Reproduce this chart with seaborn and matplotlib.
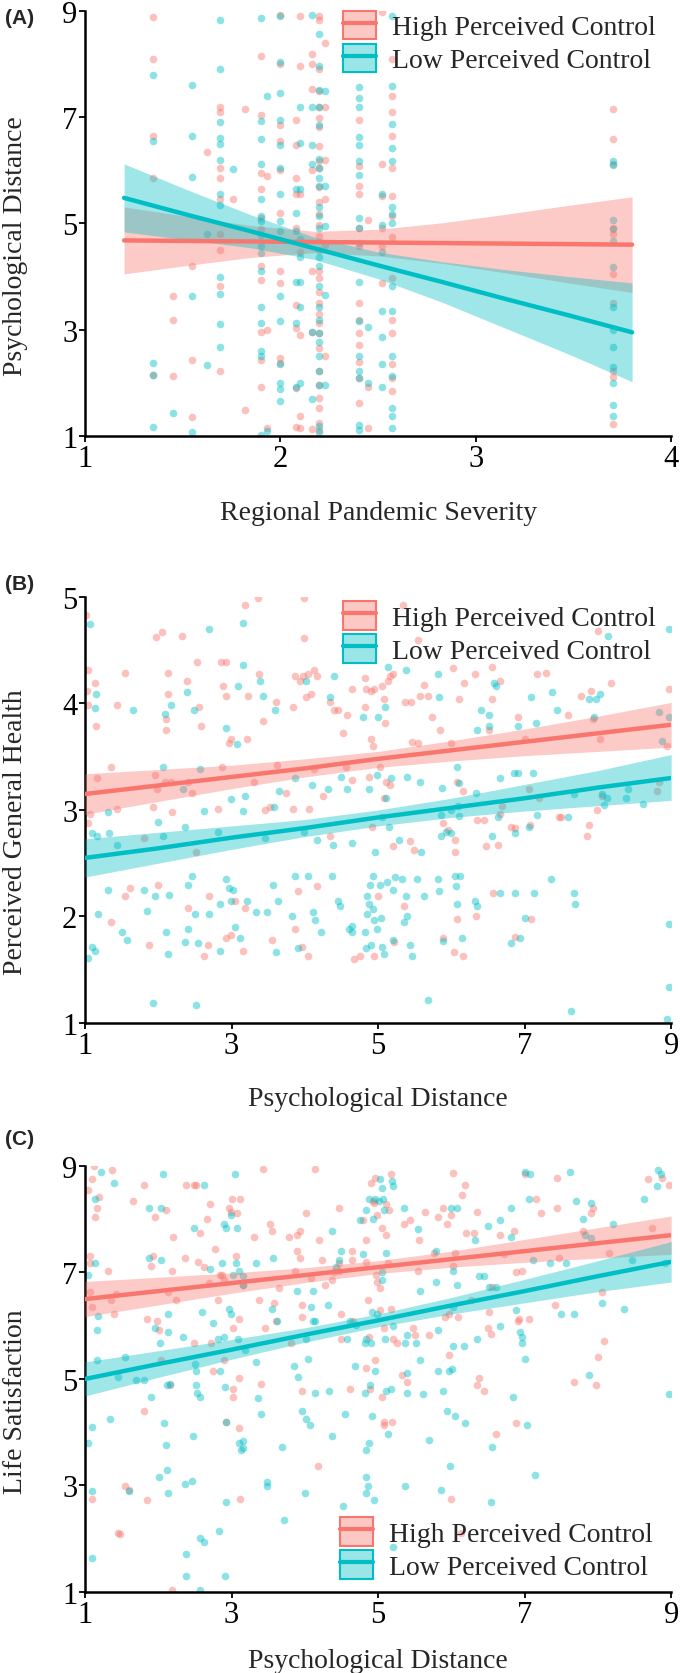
import matplotlib
matplotlib.use("Agg")
import matplotlib.pyplot as plt
import seaborn as sns
from matplotlib.patches import Patch
from matplotlib.lines import Line2D
from matplotlib.colors import to_rgba

HIGH = "#F8766D"
LOW = "#00BFC4"
group_labels = ["High Perceived Control", "Low Perceived Control"]

# ---------------- Panel A: severity (x) vs psychological distance (y) ----------------
a_severity = [1.35, 1.45, 1.55, 1.625, 1.69, 1.76, 1.82, 1.9, 1.93, 2.0,
              2.08, 2.1, 2.16, 2.2, 2.23, 2.4, 2.45, 2.52, 2.57, 3.7]
a_high_pd = [
    [8.88, 8.1, 6.65, 5.85, 2.15],
    [3.64, 3.19, 2.12],
    [4.2, 2.42, 1.35],
    [6.35],
    [7.2, 7.1, 6.05, 5.85, 5.45, 4.8, 4.5, 3.83, 2.22],
    [5.45],
    [7.15, 1.48],
    [8.16, 7.04, 5.95, 5.64, 5.1, 4.9, 4.2, 3.93, 2.96, 2.42, 1.92],
    [5.9, 3.0, 1.15],
    [8.93, 8.0, 6.85, 6.55, 6.0, 5.2, 4.1, 3.87, 2.46, 2.37],
    [6.95, 6.48, 5.85, 5.55, 4.91, 3.46, 3.03, 1.9, 1.16],
    [8.9, 7.96, 5.55, 4.47, 2.9, 1.38, 1.15],
    [8.18, 8.0, 7.53, 6.0, 4.1, 2.96, 1.13],
    [8.9, 8.83, 7.9, 7.49, 7.19, 6.99, 6.82, 6.45, 6.18, 6.05, 5.68, 5.41, 5.17, 4.97, 4.77,
     4.5, 4.1, 3.97, 3.7, 3.5, 3.29, 3.13, 2.93, 2.66, 2.22, 1.95, 1.72, 1.52, 1.25, 1.11],
    [8.4, 7.2, 6.2, 5.45, 4.6, 2.5],
    [6.95, 6.08, 5.71, 5.55, 4.91, 4.58, 3.5, 3.19, 2.93, 2.72, 2.39, 2.09, 1.62],
    [5.07, 1.92, 1.15],
    [8.98, 6.12, 5.51, 4.91, 4.58, 3.87],
    [8.1, 7.4, 7.09, 6.65, 6.05, 5.51, 5.14, 4.74, 3.97, 3.19, 2.93, 2.36, 2.09, 1.85],
    [7.15, 6.58, 6.12, 4.91, 4.8, 4.04, 3.5, 2.22, 2.1, 1.22],
]
a_low_pd = [
    [7.8, 6.55, 2.38, 2.15, 1.17],
    [1.43],
    [7.6, 6.65, 5.88, 3.63, 1.07],
    [4.8, 2.34],
    [8.82, 7.9, 6.9, 6.6, 6.5, 6.2, 5.55, 5.35, 4.0, 3.67, 3.1, 2.68],
    [6.03],
    [],
    [8.87, 6.92, 6.58, 6.12, 5.45, 5.14, 5.05, 4.78, 4.58, 4.44, 4.1, 3.43, 3.13, 2.6, 2.5, 1.02],
    [7.4, 1.1],
    [8.9, 8.03, 7.46, 6.95, 6.48, 6.05, 5.55, 5.05, 4.85, 3.63, 3.17, 2.36, 1.99, 1.89, 1.65],
    [5.64, 5.2, 4.85, 3.9, 3.13, 1.92],
    [7.19, 6.52, 5.64, 4.7, 4.37, 3.9, 3.43, 2.0],
    [8.93, 7.19, 6.48, 6.12, 2.96, 1.7],
    [8.56, 7.96, 7.52, 7.19, 6.85, 6.21, 6.05, 5.85, 5.71, 5.31, 5.14, 4.91, 4.37, 4.2, 3.83,
     3.43, 3.19, 2.93, 2.76, 2.5, 2.22, 1.95, 1.18, 1.08],
    [7.5, 5.7, 4.95, 3.65, 1.95],
    [7.56, 7.36, 7.19, 6.62, 6.48, 6.18, 5.91, 5.1, 4.91, 4.64, 3.9, 3.17, 2.5, 2.22, 2.09, 1.21, 1.11],
    [3.05, 1.99],
    [5.55, 4.97, 4.47, 3.36, 2.86, 2.36, 1.92],
    [8.9, 7.59, 6.88, 6.42, 6.18, 5.31, 5.17, 5.0, 3.83, 3.36, 2.5, 2.13, 1.52, 1.38, 1.15],
    [6.18, 6.1, 5.07, 4.9, 4.67, 4.17, 3.43, 3.0, 2.67, 2.29, 1.99, 1.58, 1.38],
]
# fitted lines and 95% bands
a_fit_x = [1.2, 1.525, 1.85, 2.175, 2.5, 2.825, 3.15, 3.475, 3.8]
a_high_fit = [4.68, 4.67, 4.66, 4.65, 4.64, 4.63, 4.62, 4.61, 4.60]
a_high_lo = [4.05, 4.21, 4.36, 4.45, 4.39, 4.25, 4.07, 3.88, 3.70]
a_high_hi = [5.31, 5.13, 4.96, 4.85, 4.89, 5.01, 5.17, 5.34, 5.50]
a_low_fit = [5.48, 5.16, 4.85, 4.53, 4.21, 3.90, 3.58, 3.27, 2.95]
a_low_lo = [4.84, 4.69, 4.54, 4.32, 3.96, 3.52, 3.03, 2.54, 2.02]
a_low_hi = [6.12, 5.63, 5.16, 4.74, 4.46, 4.28, 4.13, 4.00, 3.88]

# ---------------- Panel B: psychological distance (x) vs general health (y) ----------------
b_high = [
    (1.01, 4.83), (1.04, 4.31), (1.03, 4.12), (1.04, 3.99), (1.13, 4.19), (1.15, 3.79), (1.07, 2.96),
    (1.04, 2.88), (1.16, 3.30), (1.35, 3.40), (1.44, 3.99), (1.54, 4.29), (1.43, 3.01), (1.62, 2.27),
    (1.54, 2.19), (1.35, 1.95), (1.87, 1.73), (1.97, 4.62), (2.05, 4.67), (1.96, 3.33), (1.98, 3.20),
    (2.09, 3.26), (1.93, 3.03), (1.81, 2.74), (2.0, 2.30), (2.1, 3.85), (2.11, 3.75), (2.13, 4.09),
    (2.13, 4.29), (2.17, 3.26), (2.19, 2.98), (2.33, 4.63), (2.39, 4.21), (2.4, 3.26), (2.46, 3.16),
    (2.53, 4.39), (2.56, 3.97), (2.59, 3.79), (2.52, 2.61), (2.4, 2.08), (2.69, 2.19), (2.63, 1.63),
    (2.68, 1.73), (2.86, 4.39), (2.92, 4.39), (2.89, 4.16), (2.93, 4.07), (2.99, 3.67), (2.96, 3.63),
    (2.81, 3.01), (2.87, 3.40), (2.93, 1.80), (2.99, 1.83), (3.05, 2.15), (3.19, 4.92), (3.21, 3.67),
    (3.22, 4.07), (3.19, 2.08), (3.16, 1.68), (3.36, 4.99), (3.37, 4.28), (3.31, 3.26), (3.43, 3.84),
    (3.46, 3.0), (3.52, 3.03), (3.55, 1.78), (3.6, 4.01), (3.62, 3.42), (3.75, 3.16), (3.84, 3.97),
    (3.86, 4.26), (3.93, 4.21), (3.84, 3.01), (3.87, 1.88), (3.91, 2.24), (3.98, 4.26), (3.99, 4.99),
    (3.99, 4.61), (4.02, 4.06), (4.05, 4.28), (4.08, 4.09), (3.96, 1.71), (4.05, 1.63), (4.06, 3.01),
    (4.13, 4.31), (4.17, 4.26), (4.17, 2.29), (4.12, 3.38), (4.25, 3.13), (4.34, 4.01), (4.4, 3.94),
    (4.45, 3.94), (4.34, 2.76), (4.52, 3.72), (4.56, 3.40), (4.64, 4.14), (4.58, 3.89), (4.64, 3.28),
    (4.67, 1.60), (4.76, 1.63), (4.82, 4.24), (4.82, 3.97), (4.84, 4.14), (4.9, 4.12), (4.9, 3.67),
    (4.93, 3.60), (4.94, 4.14), (4.87, 3.31), (4.92, 2.84), (4.94, 1.63), (5.0, 2.19), (5.02, 3.40),
    (5.05, 4.16), (5.08, 4.04), (5.1, 3.82), (5.11, 3.26), (5.08, 3.11), (5.14, 4.21), (5.16, 4.26),
    (5.16, 3.23), (5.2, 4.28), (5.2, 2.66), (5.22, 1.76), (5.34, 4.92), (5.37, 4.01), (5.45, 4.01),
    (5.46, 3.64), (5.54, 4.60), (5.54, 3.63), (5.49, 2.62), (5.43, 2.71), (5.36, 2.10), (5.57, 4.07),
    (5.63, 4.17), (5.68, 4.07), (5.73, 3.87), (5.85, 3.75), (5.88, 2.88), (5.88, 1.80), (5.96, 2.81),
    (6.0, 3.63), (6.02, 4.33), (6.1, 4.04), (6.08, 3.26), (6.05, 2.72), (6.05, 2.61), (6.08, 1.98),
    (6.04, 1.67), (6.16, 3.18), (6.16, 1.63), (6.17, 4.19), (6.32, 4.28), (6.34, 2.0), (6.35, 2.91),
    (6.44, 2.91), (6.47, 2.66), (6.52, 3.75), (6.55, 4.04), (6.55, 4.34), (6.57, 2.22), (6.63, 2.67),
    (6.67, 4.21), (6.67, 2.96), (6.69, 3.04), (6.82, 2.84), (6.87, 2.83), (6.87, 1.81), (6.91, 3.87),
    (7.0, 3.67), (7.06, 3.20), (7.07, 2.86), (7.09, 1.98), (7.17, 4.28), (7.2, 3.11), (7.29, 4.29),
    (7.47, 2.93), (7.5, 2.93), (7.59, 3.89), (7.77, 4.07), (7.85, 2.76), (7.88, 2.86), (7.91, 4.12),
    (7.94, 3.85), (7.99, 3.0), (8.0, 4.68), (8.03, 3.67), (8.06, 3.13), (8.18, 4.19), (8.83, 3.26),
    (8.97, 4.14), (8.94, 3.60), (8.81, 3.18),
]
b_low = [
    (1.07, 4.75), (1.04, 1.61), (1.1, 1.71), (1.13, 1.68), (1.15, 4.09), (1.13, 3.96), (1.09, 2.78),
    (1.16, 2.76), (1.18, 2.02), (1.32, 2.98), (1.33, 2.78), (1.32, 2.25), (1.44, 2.67), (1.5, 1.85),
    (1.57, 1.78), (1.66, 3.94), (1.81, 2.25), (1.84, 2.05), (1.93, 1.19), (1.96, 2.19), (2.0, 2.89),
    (2.06, 3.40), (2.07, 2.76), (2.09, 3.90), (2.1, 1.85), (2.14, 2.20), (2.17, 3.99), (2.13, 1.65),
    (2.34, 3.20), (2.37, 2.84), (2.39, 4.11), (2.4, 2.30), (2.46, 2.38), (2.4, 1.88), (2.37, 1.76),
    (2.49, 3.94), (2.5, 2.02), (2.54, 1.75), (2.52, 1.17), (2.57, 3.38), (2.63, 2.99), (2.69, 2.02),
    (2.69, 4.70), (2.81, 2.79), (2.84, 2.12), (2.84, 1.68), (2.92, 3.77), (2.93, 2.35), (2.96, 2.27),
    (2.99, 2.15), (2.99, 3.10), (3.02, 2.25), (3.08, 3.62), (3.05, 1.90), (3.11, 1.80), (3.09, 4.16),
    (3.15, 4.36), (3.15, 4.76), (3.16, 2.99), (3.18, 3.13), (3.21, 2.15), (3.34, 2.04), (3.39, 4.21),
    (3.43, 4.07), (3.45, 2.74), (3.48, 2.04), (3.56, 2.30), (3.58, 3.03), (3.59, 3.94), (3.6, 1.67),
    (3.64, 2.15), (3.65, 3.18), (3.82, 2.0), (3.86, 3.30), (3.87, 2.38), (3.91, 1.70), (3.99, 2.79),
    (4.02, 4.21), (4.05, 2.38), (4.1, 3.23), (4.11, 2.04), (4.14, 1.97), (4.17, 2.72), (4.22, 1.85),
    (4.31, 3.20), (4.37, 2.38), (4.34, 4.06), (4.4, 4.26), (4.38, 2.67), (4.45, 2.15), (4.48, 2.10),
    (4.49, 3.31), (4.58, 3.20), (4.6, 1.88), (4.64, 2.69), (4.65, 1.91), (4.64, 1.85), (4.8, 3.87),
    (4.82, 1.85), (4.83, 1.70), (4.85, 2.19), (4.85, 2.02), (4.87, 2.12), (4.88, 3.20), (4.89, 2.30),
    (4.9, 1.73), (4.93, 2.38), (4.93, 2.07), (4.94, 1.97), (4.96, 2.61), (4.98, 3.33), (4.99, 1.88),
    (5.0, 3.87), (5.02, 2.30), (5.04, 1.99), (5.05, 2.93), (5.06, 1.71), (5.08, 1.65), (5.1, 3.97),
    (5.11, 3.11), (5.12, 2.32), (5.14, 4.34), (5.15, 2.84), (5.17, 3.30), (5.2, 2.25), (5.2, 1.78),
    (5.23, 2.37), (5.28, 2.72), (5.32, 2.35), (5.35, 1.95), (5.38, 2.19), (5.38, 4.31), (5.4, 2.0),
    (5.39, 3.31), (5.44, 1.73), (5.46, 1.63), (5.53, 2.35), (5.57, 3.26), (5.59, 2.61), (5.63, 2.19),
    (5.68, 1.22), (5.82, 2.35), (5.83, 4.06), (5.83, 2.24), (5.86, 2.95), (5.86, 2.76), (5.82, 4.28),
    (5.87, 3.21), (5.88, 1.77), (5.93, 2.79), (6.0, 3.0), (6.0, 2.78), (6.05, 2.38), (6.06, 2.29),
    (6.08, 3.40), (6.09, 3.04), (6.1, 2.94), (6.11, 3.25), (6.08, 2.12), (6.12, 2.38), (6.14, 1.80),
    (6.32, 2.15), (6.35, 2.10), (6.34, 3.16), (6.35, 3.75), (6.4, 3.94), (6.51, 3.79), (6.52, 3.89),
    (6.55, 2.76), (6.58, 4.19), (6.61, 4.16), (6.64, 2.93), (6.67, 3.30), (6.67, 2.22), (6.82, 1.75),
    (6.85, 3.35), (6.87, 2.78), (6.87, 2.22), (6.91, 3.35), (6.91, 3.79), (6.94, 1.80), (7.0, 1.99),
    (7.06, 2.84), (7.09, 4.06), (7.11, 3.35), (7.13, 2.22), (7.15, 3.82), (7.17, 2.95), (7.36, 2.35),
    (7.38, 4.11), (7.44, 3.94), (7.59, 2.93), (7.63, 1.11), (7.67, 2.22), (7.69, 2.12), (7.67, 3.15),
    (7.88, 4.04), (7.97, 4.04), (7.95, 3.87), (8.03, 4.09), (8.06, 3.15), (8.09, 3.05), (8.12, 3.11),
    (8.14, 4.63), (8.38, 3.11), (8.41, 3.20), (8.61, 3.06), (8.83, 3.92), (8.87, 3.65), (8.97, 4.70),
    (8.97, 1.93), (8.97, 1.34), (8.94, 1.04), (8.97, 3.87),
]
b_fit_x = [1, 2, 3, 4, 5, 6, 7, 8, 9]
b_high_fit = [3.15, 3.23, 3.31, 3.39, 3.48, 3.56, 3.64, 3.72, 3.80]
b_high_lo = [2.96, 3.08, 3.20, 3.31, 3.40, 3.46, 3.51, 3.55, 3.59]
b_high_hi = [3.34, 3.38, 3.42, 3.48, 3.55, 3.65, 3.76, 3.88, 4.01]
b_low_fit = [2.55, 2.64, 2.74, 2.83, 2.93, 3.02, 3.11, 3.21, 3.30]
b_low_lo = [2.37, 2.50, 2.63, 2.75, 2.85, 2.93, 2.99, 3.04, 3.09]
b_low_hi = [2.73, 2.79, 2.85, 2.91, 3.00, 3.11, 3.24, 3.37, 3.52]

# ---------------- Panel C: psychological distance (x) vs life satisfaction (y) ----------------
c_high = [
    (1.1, 8.75), (1.04, 8.55), (1.07, 7.30), (1.07, 7.17), (1.07, 6.63), (1.1, 6.36), (1.16, 8.21),
    (1.13, 8.04), (1.19, 8.41), (1.1, 2.75), (1.12, 8.99), (1.31, 7.03), (1.36, 6.49), (1.42, 6.59),
    (1.39, 6.22), (1.48, 2.08), (1.45, 2.11), (1.54, 2.99), (1.6, 2.92), (1.37, 8.92), (1.66, 8.35),
    (1.81, 8.65), (1.84, 6.12), (1.85, 2.72), (1.81, 4.40), (1.9, 7.13), (1.93, 7.30), (1.96, 8.04),
    (1.98, 6.09), (2.01, 5.92), (2.04, 5.35), (2.1, 8.18), (2.13, 6.63), (2.19, 7.03), (2.2, 7.67),
    (2.16, 4.88), (2.19, 1.04), (2.24, 6.49), (2.37, 7.27), (2.38, 8.65), (2.49, 8.65), (2.52, 8.65),
    (2.54, 7.20), (2.57, 7.74), (2.49, 5.68), (2.62, 7.10), (2.66, 8.0), (2.71, 8.28), (2.69, 6.80),
    (2.72, 5.68), (2.75, 5.15), (2.77, 7.44), (2.81, 6.49), (2.84, 6.96), (2.87, 6.96), (2.9, 6.86),
    (2.9, 5.35), (2.93, 4.20), (2.96, 8.21), (2.99, 8.14), (3.0, 8.38), (3.02, 5.95), (3.02, 4.81),
    (3.02, 4.67), (3.06, 7.30), (3.1, 6.12), (3.1, 4.07), (3.1, 5.01), (3.12, 8.38), (3.08, 8.11),
    (3.12, 2.75), (3.16, 6.76), (3.3, 7.67), (3.37, 6.49), (3.4, 4.91), (3.43, 8.95), (3.46, 5.95),
    (3.52, 7.91), (3.55, 7.77), (3.58, 6.43), (3.6, 6.09), (3.65, 6.70), (3.78, 7.67), (3.81, 5.68),
    (3.9, 7.71), (3.9, 7.40), (3.93, 7.77), (3.93, 7.27), (3.96, 6.39), (3.96, 6.16), (3.96, 4.77),
    (3.87, 7.03), (4.02, 8.11), (4.08, 6.90), (4.14, 8.95), (4.18, 3.36), (4.2, 7.61), (4.23, 7.23),
    (4.28, 6.76), (4.37, 6.86), (4.4, 7.0), (4.46, 7.03), (4.46, 7.17), (4.46, 8.21), (4.49, 6.22),
    (4.49, 5.75), (4.61, 4.81), (4.64, 7.23), (4.66, 6.09), (4.64, 7.40), (4.79, 7.98), (4.83, 7.61),
    (4.83, 5.21), (4.84, 7.20), (4.86, 6.49), (4.87, 5.79), (4.89, 4.81), (4.9, 8.68), (4.93, 8.35),
    (4.95, 8.31), (4.96, 8.78), (4.96, 5.35), (4.97, 6.96), (4.99, 8.08), (4.99, 6.83), (5.02, 6.70),
    (5.03, 6.29), (5.05, 7.84), (5.05, 4.67), (5.08, 5.95), (5.08, 4.20), (5.08, 4.13), (5.11, 8.28),
    (5.11, 7.71), (5.13, 7.17), (5.15, 8.18), (5.17, 8.85), (5.17, 6.32), (5.19, 4.20), (5.2, 5.75),
    (5.26, 5.68), (5.32, 5.08), (5.35, 7.91), (5.4, 4.94), (5.43, 7.98), (5.48, 5.95), (5.5, 5.82),
    (5.55, 7.03), (5.56, 7.61), (5.64, 8.14), (5.7, 5.82), (5.76, 7.37), (5.82, 8.04), (5.88, 8.21),
    (5.91, 6.16), (5.94, 7.91), (5.97, 6.22), (5.97, 5.45), (6.0, 8.08), (6.0, 2.75), (6.02, 8.87),
    (6.02, 7.13), (6.05, 7.37), (6.09, 6.16), (6.13, 2.11), (6.14, 8.45), (6.19, 8.65), (6.2, 7.74),
    (6.27, 6.49), (6.31, 7.74), (6.35, 8.14), (6.35, 4.88), (6.38, 5.01), (6.44, 4.77), (6.5, 5.95),
    (6.52, 6.26), (6.54, 5.85), (6.55, 6.73), (6.61, 3.97), (6.67, 7.71), (6.72, 7.34), (6.85, 7.77),
    (6.88, 4.17), (6.88, 7.0), (6.91, 6.09), (6.92, 6.12), (6.97, 7.03), (7.0, 8.85), (7.06, 6.12),
    (7.16, 8.38), (7.22, 8.11), (7.41, 6.39), (7.44, 8.21), (7.44, 8.78), (7.47, 7.27), (7.67, 4.94),
    (7.79, 7.77), (7.91, 8.11), (7.94, 8.21), (7.97, 4.88), (8.0, 5.42), (8.06, 6.63), (8.09, 5.72),
    (8.15, 7.37), (8.68, 8.75), (8.74, 7.84), (8.88, 8.78), (8.97, 8.65),
]
c_low = [
    (1.04, 6.96), (1.04, 3.80), (1.1, 4.10), (1.1, 2.89), (1.1, 1.64), (1.13, 8.38), (1.13, 7.17),
    (1.16, 5.92), (1.16, 5.35), (1.18, 6.19), (1.22, 8.89), (1.34, 4.24), (1.4, 8.68), (1.45, 5.04),
    (1.54, 5.42), (1.6, 2.89), (1.69, 4.98), (1.81, 4.98), (1.87, 8.21), (1.9, 4.67), (1.88, 7.27),
    (1.96, 5.95), (2.01, 3.16), (2.03, 5.68), (2.04, 8.21), (2.06, 8.85), (2.04, 7.23), (2.08, 4.17),
    (2.1, 3.76), (2.12, 3.29), (2.13, 6.22), (2.12, 4.88), (2.13, 2.86), (2.16, 4.91), (2.13, 5.89),
    (2.34, 5.79), (2.37, 3.02), (2.38, 1.71), (2.38, 1.30), (2.46, 3.09), (2.47, 3.93), (2.49, 7.84),
    (2.5, 5.28), (2.52, 5.15), (2.52, 4.88), (2.53, 4.74), (2.57, 4.67), (2.57, 2.01), (2.62, 1.94),
    (2.57, 1.04), (2.6, 6.26), (2.63, 8.65), (2.71, 7.07), (2.75, 6.06), (2.81, 5.75), (2.83, 2.15),
    (2.84, 5.15), (2.87, 7.17), (2.9, 7.91), (2.9, 5.79), (2.91, 4.84), (2.93, 7.84), (2.93, 4.20),
    (2.93, 2.69), (2.91, 1.30), (2.96, 6.32), (2.99, 6.22), (2.99, 8.08), (3.02, 6.96), (3.05, 8.85),
    (3.06, 7.17), (3.08, 7.84), (3.09, 5.75), (3.1, 7.03), (3.1, 3.80), (3.13, 3.66), (3.16, 3.83),
    (3.16, 3.70), (3.16, 6.76), (3.16, 6.93), (3.19, 5.55), (3.34, 7.17), (3.34, 5.31), (3.36, 4.64),
    (3.4, 4.34), (3.49, 3.06), (3.49, 2.99), (3.55, 6.32), (3.56, 7.27), (3.62, 6.09), (3.69, 3.73),
    (3.71, 2.35), (3.85, 5.25), (3.9, 6.66), (3.91, 5.04), (3.96, 4.40), (4.0, 2.86), (4.02, 4.24),
    (4.02, 5.75), (4.05, 5.38), (4.07, 4.13), (4.09, 6.36), (4.11, 6.66), (4.11, 6.09), (4.14, 6.09),
    (4.14, 4.74), (4.31, 6.39), (4.33, 4.77), (4.37, 3.93), (4.37, 7.77), (4.43, 7.10), (4.46, 7.23),
    (4.49, 7.40), (4.52, 2.62), (4.55, 4.34), (4.58, 5.75), (4.61, 6.09), (4.68, 5.25), (4.7, 6.02),
    (4.76, 7.98), (4.79, 7.34), (4.82, 5.68), (4.82, 4.74), (4.83, 5.75), (4.83, 2.86), (4.84, 8.18),
    (4.84, 3.66), (4.84, 3.16), (4.86, 2.99), (4.87, 3.80), (4.87, 8.38), (4.89, 4.88), (4.9, 5.68),
    (4.92, 6.26), (4.92, 4.30), (4.93, 8.01), (4.95, 2.72), (4.96, 8.38), (4.96, 5.15), (4.99, 6.22),
    (5.01, 8.35), (5.02, 8.75), (5.05, 7.0), (5.05, 6.86), (5.05, 8.58), (5.07, 8.38), (5.08, 8.18),
    (5.09, 5.75), (5.11, 4.77), (5.13, 3.97), (5.11, 7.37), (5.17, 4.81), (5.19, 8.72), (5.2, 8.62),
    (5.2, 5.99), (5.21, 1.84), (5.37, 5.68), (5.36, 8.21), (5.37, 2.99), (5.39, 5.11), (5.4, 5.82),
    (5.4, 4.74), (5.52, 5.68), (5.54, 7.81), (5.57, 6.66), (5.57, 5.35), (5.61, 4.71), (5.7, 3.86),
    (5.79, 7.40), (5.79, 6.83), (5.82, 5.92), (5.82, 5.15), (5.86, 2.92), (5.88, 4.77), (5.94, 4.40),
    (5.97, 5.15), (5.98, 3.36), (6.0, 8.21), (6.01, 5.18), (6.02, 7.03), (6.02, 6.36), (6.02, 5.62),
    (6.05, 4.30), (6.08, 8.21), (6.08, 6.76), (6.17, 5.62), (6.19, 4.17), (6.32, 7.61), (6.35, 5.75),
    (6.38, 6.93), (6.45, 6.93), (6.5, 7.88), (6.52, 6.73), (6.55, 3.73), (6.54, 2.69), (6.61, 6.73),
    (6.67, 7.98), (6.67, 5.99), (6.82, 8.21), (6.82, 7.67), (6.84, 4.67), (6.88, 6.29), (6.94, 5.89),
    (6.97, 5.79), (6.97, 5.68), (7.0, 8.89), (7.0, 5.38), (7.03, 4.13), (7.06, 8.38), (7.08, 8.85),
    (7.11, 7.23), (7.14, 3.19), (7.35, 7.17), (7.5, 6.22), (7.56, 7.17), (7.62, 8.89), (7.67, 6.22),
    (7.7, 8.35), (7.79, 8.01), (7.82, 7.71), (7.88, 5.08), (7.9, 8.31), (7.91, 7.64), (8.06, 6.43),
    (8.2, 7.91), (8.35, 6.32), (8.47, 7.23), (8.63, 8.38), (8.8, 8.62), (8.82, 8.92), (8.86, 8.85),
    (8.91, 7.17), (8.97, 4.71),
]
c_fit_x = [1, 2, 3, 4, 5, 6, 7, 8, 9]
c_high_fit = [6.50, 6.65, 6.80, 6.95, 7.10, 7.25, 7.40, 7.55, 7.70]
c_high_lo = [6.17, 6.39, 6.61, 6.81, 6.98, 7.10, 7.19, 7.27, 7.34]
c_high_hi = [6.83, 6.91, 6.99, 7.09, 7.22, 7.40, 7.62, 7.84, 8.06]
c_low_fit = [5.00, 5.28, 5.55, 5.83, 6.10, 6.38, 6.65, 6.93, 7.20]
c_low_lo = [4.68, 5.03, 5.37, 5.69, 5.98, 6.22, 6.43, 6.64, 6.82]
c_low_hi = [5.32, 5.53, 5.74, 5.96, 6.22, 6.53, 6.87, 7.22, 7.58]

sns.set_style("ticks")
plt.rcParams["font.family"] = ["Liberation Serif", "DejaVu Serif"]
FS = 20
TICK_FS = 22


def draw_panel(ax, high_pts, low_pts, fit_x, high_fit, low_fit, xlim, ylim, xticks, yticks,
               xlabel, ylabel, leg_loc, leg_anchor, xlab_y):
    for pts, color in ((high_pts, HIGH), (low_pts, LOW)):
        xs, ys = zip(*pts)
        sns.scatterplot(x=list(xs), y=list(ys), color=color, alpha=0.45, s=30,
                        linewidth=0, ax=ax, zorder=2)
    # ribbon + line, group by group (ggplot order)
    for (fit, lo, hi), color in ((high_fit, HIGH), (low_fit, LOW)):
        ax.fill_between(fit_x, lo, hi, color=color, alpha=0.38, linewidth=0, zorder=3)
        sns.lineplot(x=fit_x, y=fit, color=color, linewidth=3.2, ax=ax, zorder=4)

    ax.set_xlim(*xlim)
    ax.set_ylim(*ylim)
    ax.set_xticks(xticks)
    ax.set_yticks(yticks)
    ax.set_xticklabels([str(t) for t in xticks])
    ax.set_yticklabels([str(t) for t in yticks])
    sns.despine(ax=ax)
    for side in ("left", "bottom"):
        ax.spines[side].set_linewidth(1.8)
        ax.spines[side].set_color("black")
    ax.tick_params(labelsize=TICK_FS, length=4, width=1.3, pad=1.5, colors="black")
    ax.set_xlabel(xlabel, fontsize=FS)
    ax.set_ylabel(ylabel, fontsize=FS)
    ax.xaxis.set_label_coords(0.5, xlab_y)
    ax.xaxis.label.set_verticalalignment("center")
    ax.yaxis.set_label_coords(-0.118, 0.45)
    ax.yaxis.label.set_verticalalignment("center")

    handles = []
    for color in (HIGH, LOW):
        box = Patch(facecolor=to_rgba(color, 0.4), edgecolor=color, linewidth=1.5)
        line = Line2D([], [], color=color, linewidth=3)
        handles.append((box, line))
    ax.legend(handles, group_labels, loc=leg_loc, bbox_to_anchor=leg_anchor, frameon=False,
              fontsize=FS, handlelength=1.2, handleheight=1.2, handletextpad=0.55,
              labelspacing=0.12, borderpad=0, borderaxespad=0)


fig = plt.figure(figsize=(6.8, 16.74), dpi=100)
left, width = 0.125, 0.862
ax_a = fig.add_axes([left, 0.7390, width, 0.2539])
ax_b = fig.add_axes([left, 0.3883, width, 0.2545])
ax_c = fig.add_axes([left, 0.0484, width, 0.2545])

a_high_pts = [(sev, v) for sev, vals in zip(a_severity, a_high_pd) for v in vals]
a_low_pts = [(sev, v) for sev, vals in zip(a_severity, a_low_pd) for v in vals]

draw_panel(ax_a, a_high_pts, a_low_pts, a_fit_x,
           (a_high_fit, a_high_lo, a_high_hi), (a_low_fit, a_low_lo, a_low_hi),
           (1, 4), (1, 9), [1, 2, 3, 4], [1, 3, 5, 7, 9],
           "Regional Pandemic Severity", "Psychological Distance",
           "upper left", (0.44, 1.0), -0.18)
draw_panel(ax_b, b_high, b_low, b_fit_x,
           (b_high_fit, b_high_lo, b_high_hi), (b_low_fit, b_low_lo, b_low_hi),
           (1, 9), (1, 5), [1, 3, 5, 7, 9], [1, 2, 3, 4, 5],
           "Psychological Distance", "Perceived General Health",
           "upper left", (0.44, 0.99), -0.178)
draw_panel(ax_c, c_high, c_low, c_fit_x,
           (c_high_fit, c_high_lo, c_high_hi), (c_low_fit, c_low_lo, c_low_hi),
           (1, 9), (1, 9), [1, 3, 5, 7, 9], [1, 3, 5, 7, 9],
           "Psychological Distance", "Life Satisfaction",
           "lower left", (0.435, 0.028), -0.16)

for tag, y_px in (("(A)", 18), ("(B)", 585), ("(C)", 1140)):
    fig.text(0.008, 1 - y_px / 1674, tag, fontsize=15, fontweight="bold",
             family=["Liberation Sans", "DejaVu Sans"], va="center", ha="left")

fig.savefig("out.png", dpi=100)
